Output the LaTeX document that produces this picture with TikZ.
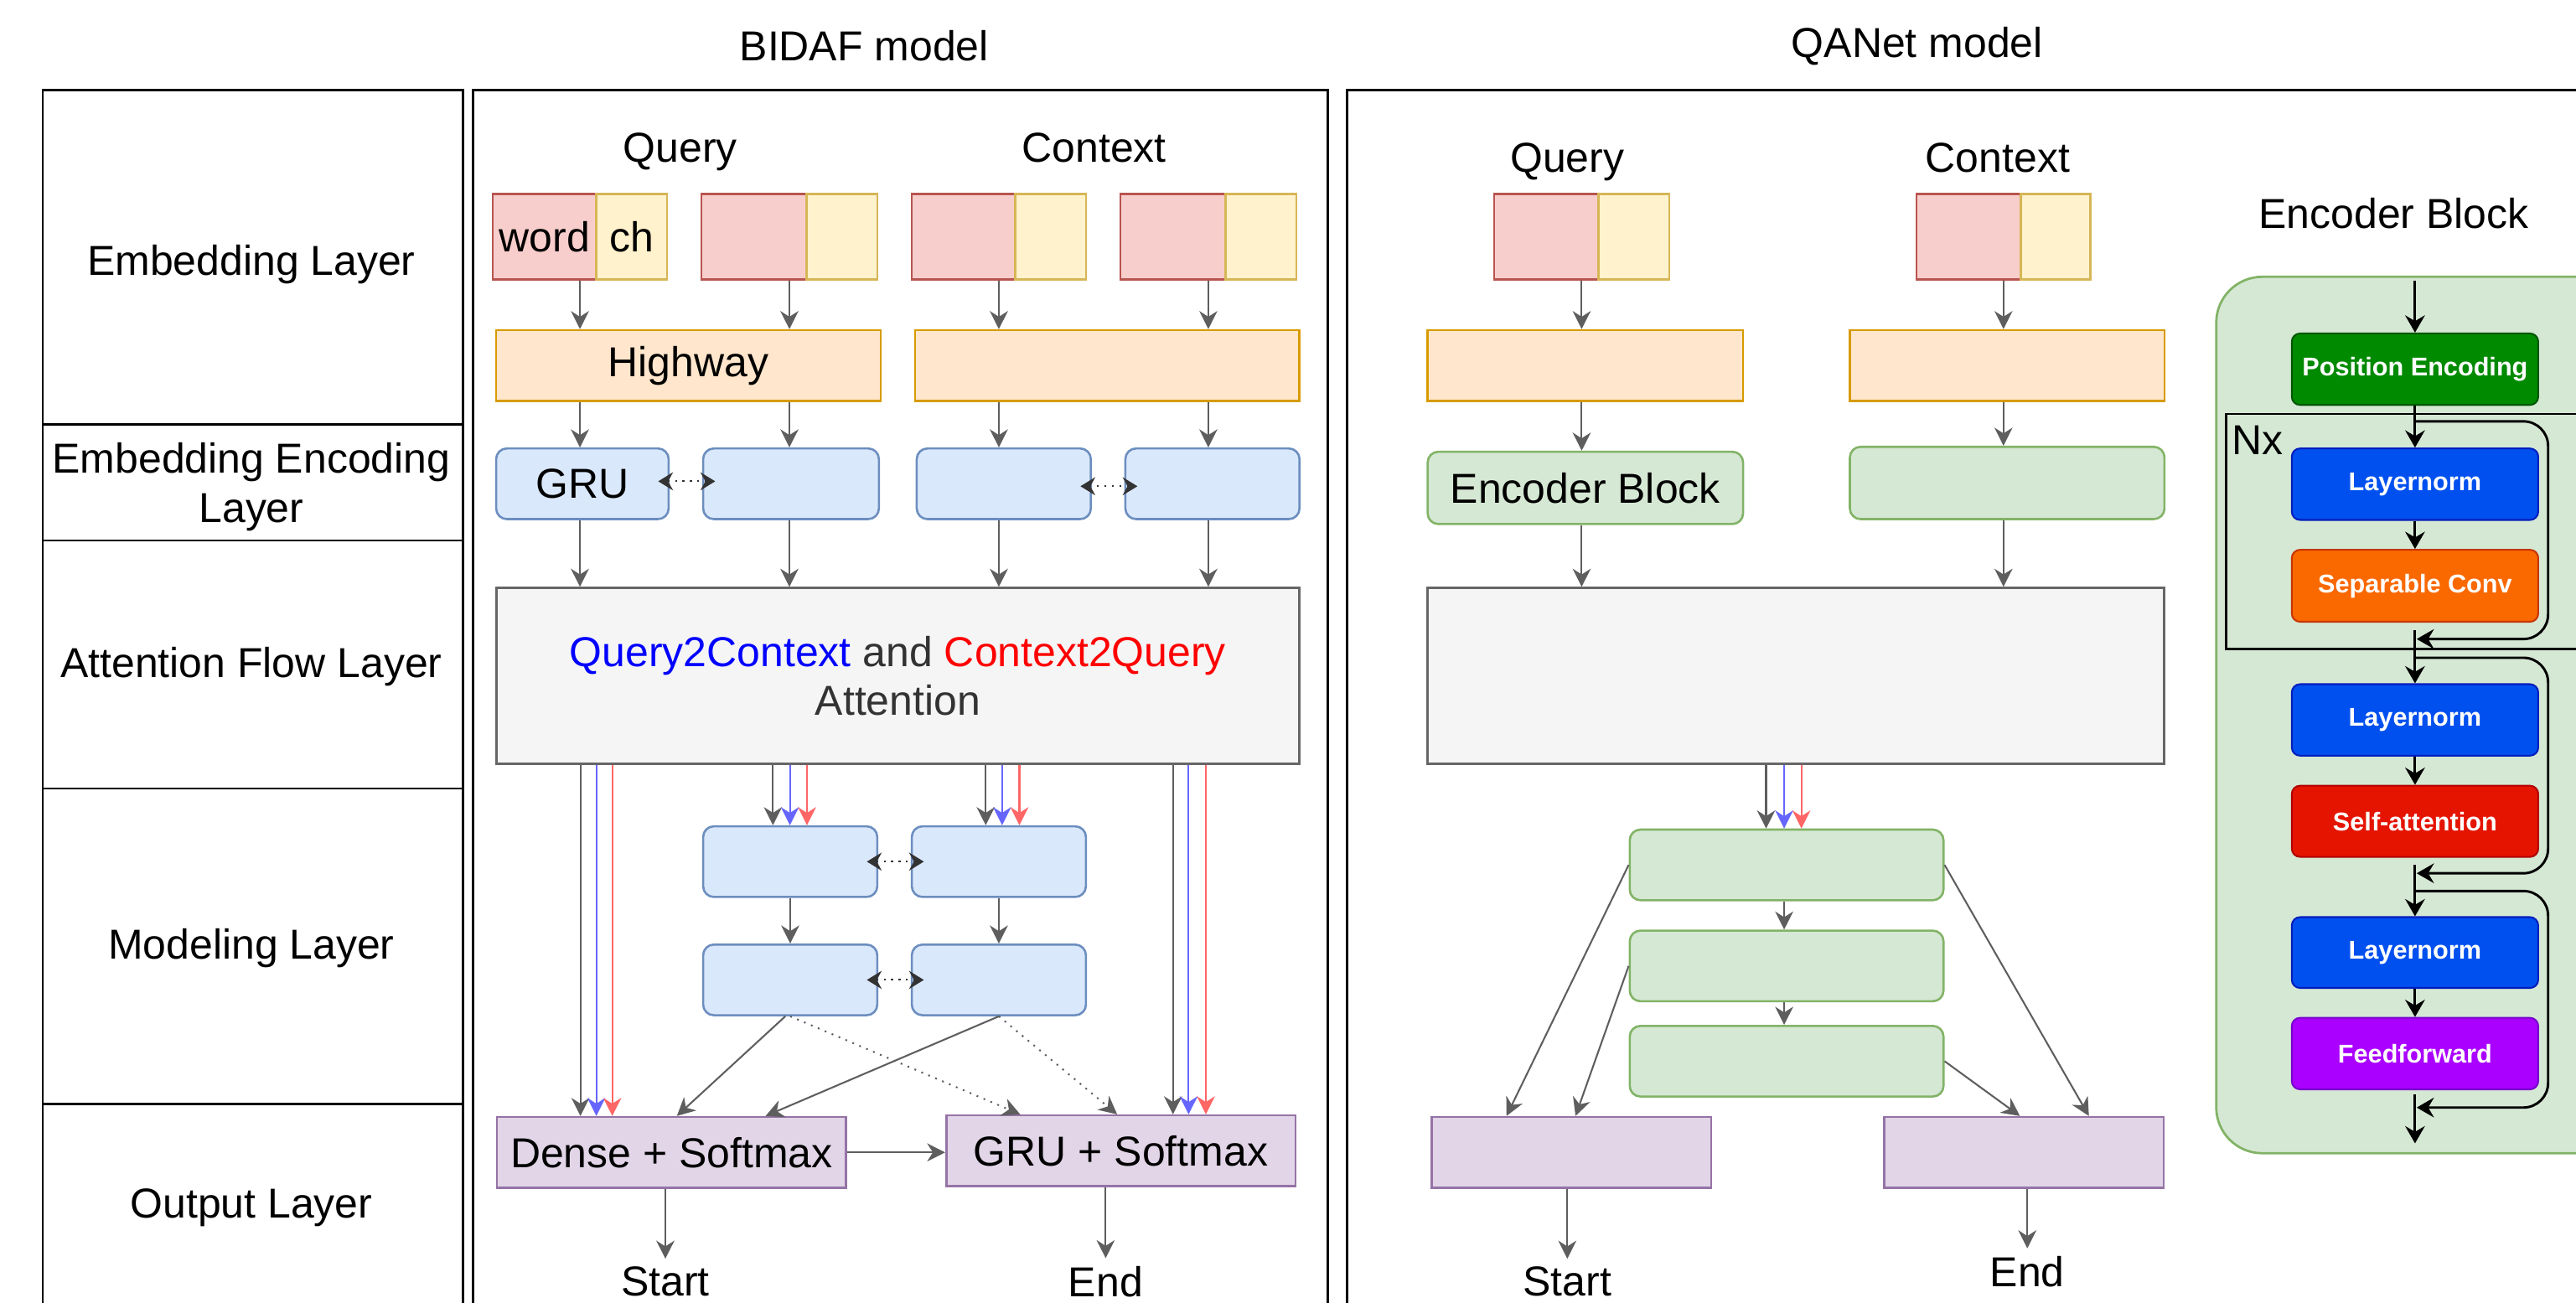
\documentclass[tikz,border=0pt]{standalone}
\usepackage{fontspec}
\setmainfont{Liberation Sans}
\usetikzlibrary{arrows.meta,calc}
\definecolor{wordF}{HTML}{F8CECC}\definecolor{wordD}{HTML}{B85450}
\definecolor{chF}{HTML}{FFF2CC}\definecolor{chD}{HTML}{D6B656}
\definecolor{hwF}{HTML}{FFE6CC}\definecolor{hwD}{HTML}{D79B00}
\definecolor{gruF}{HTML}{DAE8FC}\definecolor{gruD}{HTML}{6C8EBF}
\definecolor{attF}{HTML}{F5F5F5}\definecolor{attD}{HTML}{666666}\definecolor{attT}{HTML}{333333}
\definecolor{outF}{HTML}{E1D5E7}\definecolor{outD}{HTML}{9673A6}
\definecolor{encF}{HTML}{D5E8D4}\definecolor{encD}{HTML}{82B366}
\definecolor{lnF}{HTML}{0050EF}\definecolor{lnD}{HTML}{001DBC}
\definecolor{scF}{HTML}{FA6800}\definecolor{scD}{HTML}{C73500}
\definecolor{saF}{HTML}{E51400}\definecolor{saD}{HTML}{B20000}
\definecolor{ffF}{HTML}{AA00FF}\definecolor{ffD}{HTML}{7700CC}
\definecolor{peF}{HTML}{008A00}\definecolor{peD}{HTML}{005700}
\definecolor{arrG}{HTML}{5E5E5E}
\definecolor{arrB}{HTML}{6666FF}
\definecolor{arrR}{HTML}{FF6666}
\definecolor{qtc}{HTML}{0000FF}
\definecolor{ctq}{HTML}{FF0000}
\newcommand\mainfs{\fontsize{14.5}{17}\selectfont}
\newcommand\mkbox[6]{\node[#2, minimum width={(#5-#3)*0.02cm}, minimum height={(#6-#4)*0.02cm}] (#1) at ({(#3+#5)/2},{(#4+#6)/2})}
\begin{document}
\begin{tikzpicture}[x=0.02cm,y=-0.02cm,font=\mainfs,
  bx/.style={draw, line width=0.75pt, inner sep=0pt},
  wordb/.style={bx, fill=wordF, draw=wordD},
  chb/.style={bx, fill=chF, draw=chD},
  hw/.style={bx, fill=hwF, draw=hwD},
  gru/.style={bx, fill=gruF, draw=gruD, rounded corners=0.13cm},
  attb/.style={bx, fill=attF, draw=attD, line width=0.9pt, text=attT, align=center},
  outb/.style={bx, fill=outF, draw=outD},
  encb/.style={bx, fill=encF, draw=encD, rounded corners=0.13cm},
  eb/.style={bx, rounded corners=0.1cm, text=white, line width=0.6pt, font=\bfseries\fontsize{8.9}{10}\selectfont},
  cell/.style={draw, line width=0.85pt, inner sep=0pt},
  celltxt/.style={align=center, inner sep=0pt},
  frame/.style={draw, line width=0.85pt, inner sep=0pt},
  arr/.style={draw=arrG, line width=0.6pt, -{Stealth[length=0.22cm,width=0.22cm,inset=0.07cm]}},
  darr/.style={draw=black!80, line width=0.6pt, dotted, {Stealth[length=0.18cm,width=0.22cm,inset=0.06cm]}-{Stealth[length=0.18cm,width=0.22cm,inset=0.06cm]}},
  blk/.style={draw=black, line width=0.85pt, -{Stealth[length=0.21cm,width=0.24cm,inset=0.07cm]}},
  lbl/.style={inner sep=2.5pt}]
\useasboundingbox (0,0) rectangle (1568,793);
\clip (0,0) rectangle (1568,793);
% titles
\node (tb) at (526,28) {BIDAF model};
\node (tq) at (1167,28) {QANet model};
% layer table
\mkbox{c1}{cell}{26}{55}{282}{258.5}{};
\mkbox{c2}{cell}{26}{258.5}{282}{329}{};
\mkbox{c3}{cell}{26}{329}{282}{480}{};
\mkbox{c4}{cell}{26}{480}{282}{672}{};
\mkbox{c5}{cell}{26}{672}{282}{794}{};
\node[celltxt] (c1t) at (153,161) {Embedding Layer};
\node[celltxt] (c2t) at (153,296.5) {Embedding Encoding\\Layer};
\node[celltxt] (c3t) at (153,406) {Attention Flow Layer};
\node[celltxt] (c4t) at (153,577) {Modeling Layer};
\node[celltxt] (c5t) at (153,735) {Output Layer};
% frames
\mkbox{fb}{frame}{288}{55}{808}{830}{};
\mkbox{fq}{frame}{820}{55}{1660}{830}{};
% ---------------- BIDAF ----------------
\node (bq) at (414,92.5) {Query};
\node (bc) at (666,90) {Context};
\mkbox{w1}{wordb}{300}{118}{363}{170}{word};
\mkbox{h1}{chb}{363}{118}{406}{170}{ch};
\mkbox{w2}{wordb}{427}{118}{491}{170}{};
\mkbox{h2}{chb}{491}{118}{534}{170}{};
\mkbox{w3}{wordb}{555}{118}{618}{170}{};
\mkbox{h3}{chb}{618}{118}{661}{170}{};
\mkbox{w4}{wordb}{682}{118}{746}{170}{};
\mkbox{h4}{chb}{746}{118}{789}{170}{};
\mkbox{hw1}{hw}{302}{201}{536}{244}{Highway};
\mkbox{hw2}{hw}{557}{201}{791}{244}{};
\mkbox{g1}{gru}{302}{273}{407}{316}{GRU};
\mkbox{g2}{gru}{428}{273}{535}{316}{};
\mkbox{g3}{gru}{558}{273}{664}{316}{};
\mkbox{g4}{gru}{685}{273}{791}{316}{};
\mkbox{att}{attb}{302}{358}{791}{465}{{\color{qtc}Query2Context} and {\color{ctq}Context2Query}\\Attention};
\mkbox{m1}{gru}{428}{503}{534}{546}{};
\mkbox{m2}{gru}{555}{503}{661}{546}{};
\mkbox{m3}{gru}{428}{575}{534}{618}{};
\mkbox{m4}{gru}{555}{575}{661}{618}{};
\mkbox{do}{outb}{302.5}{680}{515}{723}{Dense + Softmax};
\mkbox{go}{outb}{576}{679}{788.5}{722}{GRU + Softmax};
\node[lbl] (st1) at (405,780) {Start};
\node[lbl] (en1) at (673,780) {End};
% column coordinates
\coordinate (p1) at ($(w1.south west)!.5!(h1.south east)$);
\coordinate (p2) at ($(w2.south west)!.5!(h2.south east)$);
\coordinate (p3) at ($(w3.south west)!.5!(h3.south east)$);
\coordinate (p4) at ($(w4.south west)!.5!(h4.south east)$);
\draw[arr] (p1) -- (p1 |- hw1.north);
\draw[arr] (p2) -- (p2 |- hw1.north);
\draw[arr] (p3) -- (p3 |- hw2.north);
\draw[arr] (p4) -- (p4 |- hw2.north);
\draw[arr] (p1 |- hw1.south) -- (p1 |- g1.north);
\draw[arr] (p2 |- hw1.south) -- (p2 |- g2.north);
\draw[arr] (p3 |- hw2.south) -- (p3 |- g3.north);
\draw[arr] (p4 |- hw2.south) -- (p4 |- g4.north);
\draw[arr] (p1 |- g1.south) -- (p1 |- att.north);
\draw[arr] (p2 |- g2.south) -- (p2 |- att.north);
\draw[arr] (p3 |- g3.south) -- (p3 |- att.north);
\draw[arr] (p4 |- g4.south) -- (p4 |- att.north);
\draw[darr] ($(g1.east)+(-7,-1.5)$) -- ($(g2.west)+(8,-1.5)$);
\draw[darr] ($(g3.east)+(-7,1.5)$) -- ($(g4.west)+(8,1.5)$);
% triple arrows
\coordinate (xa1) at (353.3,0); \coordinate (xa2) at (363,0); \coordinate (xa3) at (372.7,0);
\coordinate (xb1) at (470.5,0); \coordinate (xb2) at (480.8,0); \coordinate (xb3) at (491.2,0);
\coordinate (xc1) at (600,0); \coordinate (xc2) at (610,0); \coordinate (xc3) at (620.5,0);
\coordinate (xd1) at (714,0); \coordinate (xd2) at (723.5,0); \coordinate (xd3) at (734,0);
\draw[arr] (xa1 |- att.south) -- (xa1 |- do.north);
\draw[arr,draw=arrB] (xa2 |- att.south) -- (xa2 |- do.north);
\draw[arr,draw=arrR] (xa3 |- att.south) -- (xa3 |- do.north);
\draw[arr] (xb1 |- att.south) -- (xb1 |- m1.north);
\draw[arr,draw=arrB] (xb2 |- att.south) -- (xb2 |- m1.north);
\draw[arr,draw=arrR] (xb3 |- att.south) -- (xb3 |- m1.north);
\draw[arr] (xc1 |- att.south) -- (xc1 |- m2.north);
\draw[arr,draw=arrB] (xc2 |- att.south) -- (xc2 |- m2.north);
\draw[arr,draw=arrR] (xc3 |- att.south) -- (xc3 |- m2.north);
\draw[arr] (xd1 |- att.south) -- (xd1 |- go.north);
\draw[arr,draw=arrB] (xd2 |- att.south) -- (xd2 |- go.north);
\draw[arr,draw=arrR] (xd3 |- att.south) -- (xd3 |- go.north);
% modeling
\draw[darr] ($(m1.east)+(-7,0)$) -- ($(m2.west)+(8,0)$);
\draw[darr] ($(m3.east)+(-7,0)$) -- ($(m4.west)+(8,0)$);
\draw[arr] (m1.south) -- (m3.north);
\draw[arr] (m2.south) -- (m4.north);
\coordinate (xs1) at (412,0); \coordinate (xs2) at (466,0);
\coordinate (xs3) at (621,0); \coordinate (xs4) at (680,0);
\draw[arr] ($(m3.south)+(-3,0)$) -- (xs1 |- do.north);
\draw[arr] (m4.south) -- (xs2 |- do.north);
\draw[arr,dotted] (m3.south) -- (xs3 |- go.north);
\draw[arr,dotted] (m4.south) -- (xs4 |- go.north);
\draw[arr] (do.east) -- (do.east -| go.west);
\draw[arr] (do.south -| st1.north) -- (st1.north);
\draw[arr] (go.south -| en1.north) -- (en1.north);
% ---------------- QANet ----------------
\node (qq) at (954,98.5) {Query};
\node (qc) at (1216,96) {Context};
\mkbox{qw}{wordb}{909.5}{118}{973}{170}{};
\mkbox{qh}{chb}{973}{118}{1016}{170}{};
\mkbox{cw}{wordb}{1166.5}{118}{1230}{170}{};
\mkbox{chh}{chb}{1230}{118}{1272.5}{170}{};
\mkbox{qhw}{hw}{869}{201}{1061}{244}{};
\mkbox{chw}{hw}{1126}{201}{1317.5}{244}{};
\mkbox{qe}{encb}{869}{275}{1061}{319}{Encoder Block};
\mkbox{ce}{encb}{1126}{272}{1317.5}{316}{};
\mkbox{qa}{attb}{869}{358}{1317.5}{465}{};
\mkbox{e1}{encb}{992}{505}{1183}{548}{};
\mkbox{e2}{encb}{992}{566.5}{1183}{609.5}{};
\mkbox{e3}{encb}{992}{624.5}{1183}{667.5}{};
\mkbox{qs}{outb}{871.5}{680}{1041.5}{723}{};
\mkbox{qn}{outb}{1147}{680}{1317}{723}{};
\node[lbl] (st2) at (954,780) {Start};
\node[lbl] (en2) at (1234,774) {End};
\coordinate (pq) at ($(qw.south west)!.5!(qh.south east)$);
\coordinate (pc) at ($(cw.south west)!.5!(chh.south east)$);
\draw[arr] (pq) -- (pq |- qhw.north);
\draw[arr] (pc) -- (pc |- chw.north);
\draw[arr] (pq |- qhw.south) -- (pq |- qe.north);
\draw[arr] (pc |- chw.south) -- (pc |- ce.north);
\draw[arr] (pq |- qe.south) -- (pq |- qa.north);
\draw[arr] (pc |- ce.south) -- (pc |- qa.north);
\coordinate (xe1) at (1075,0); \coordinate (xe2) at (1086,0); \coordinate (xe3) at (1096.5,0);
\draw[arr] (xe1 |- qa.south) -- (xe1 |- e1.north);
\draw[arr,draw=arrB] (xe2 |- qa.south) -- (xe2 |- e1.north);
\draw[arr,draw=arrR] (xe3 |- qa.south) -- (xe3 |- e1.north);
\draw[arr] (xe2 |- e1.south) -- (xe2 |- e2.north);
\draw[arr] (xe2 |- e2.south) -- (xe2 |- e3.north);
\coordinate (xt1) at (917,0); \coordinate (xt2) at (959,0);
\coordinate (xt3) at (1229.5,0); \coordinate (xt4) at (1271.5,0);
\draw[arr] (e1.west) -- (xt1 |- qs.north);
\draw[arr] (e2.west) -- (xt2 |- qs.north);
\draw[arr] (e3.east) -- (xt3 |- qn.north);
\draw[arr] (e1.east) -- (xt4 |- qn.north);
\draw[arr] (qs.south -| st2.north) -- (st2.north);
\draw[arr] (qn.south -| en2.north) -- (en2.north);
% ---------------- Encoder block ----------------
\node (ebt) at (1457,130) {Encoder Block};
\mkbox{panel}{bx,fill=encF,draw=encD,rounded corners=0.56cm,line width=0.8pt}{1349}{168.5}{1680}{702}{};
\mkbox{nx}{frame}{1355}{252}{1680}{395}{};
\node (nxl) at (1374,268) {Nx};
\mkbox{pe}{eb,fill=peF,draw=peD}{1395}{203}{1545}{246.5}{Position Encoding};
\mkbox{ln1}{eb,fill=lnF,draw=lnD}{1395}{273}{1545}{316.5}{Layernorm};
\mkbox{sc}{eb,fill=scF,draw=scD}{1395}{334.7}{1545}{378.5}{Separable Conv};
\mkbox{ln2}{eb,fill=lnF,draw=lnD}{1395}{416.5}{1545}{460}{Layernorm};
\mkbox{sa}{eb,fill=saF,draw=saD}{1395}{478.3}{1545}{521.6}{Self-attention};
\mkbox{ln3}{eb,fill=lnF,draw=lnD}{1395}{558.3}{1545}{601.4}{Layernorm};
\mkbox{ff}{eb,fill=ffF,draw=ffD}{1395}{619.6}{1545}{663.1}{Feedforward};
\coordinate (ein) at (1470,171);
\coordinate (eout) at (1470,696);
\coordinate (j1) at (1470,383.4);
\coordinate (j2) at (1470,526.6);
\coordinate (j3) at (1470,666);
\coordinate (r1s) at (1470,256.5); \coordinate (r1e) at (1471,389);
\coordinate (r2s) at (1470,400.4); \coordinate (r2e) at (1471,531.6);
\coordinate (r3s) at (1470,542.4); \coordinate (r3e) at (1471,674.2);
\coordinate (rx) at (1551,0);
\draw[blk] (ein) -- (pe.north);
\draw[blk] (pe.south) -- (ln1.north);
\draw[blk] (ln1.south) -- (sc.north);
\draw[blk] (j1) -- (ln2.north);
\draw[blk] (ln2.south) -- (sa.north);
\draw[blk] (j2) -- (ln3.north);
\draw[blk] (ln3.south) -- (ff.north);
\draw[blk] (j3) -- (eout);
\draw[blk, rounded corners=0.3cm] (r1s) -- (rx |- r1s) -- (rx |- r1e) -- (r1e);
\draw[blk, rounded corners=0.3cm] (r2s) -- (rx |- r2s) -- (rx |- r2e) -- (r2e);
\draw[blk, rounded corners=0.3cm] (r3s) -- (rx |- r3s) -- (rx |- r3e) -- (r3e);
\end{tikzpicture}
\end{document}
